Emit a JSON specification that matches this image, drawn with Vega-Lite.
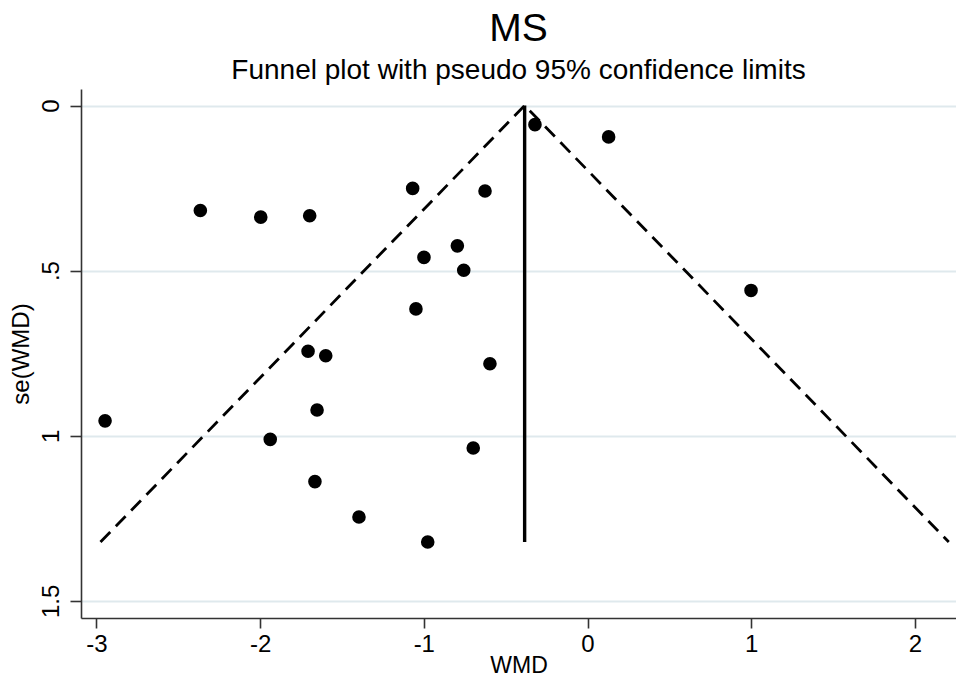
{
  "$schema": "https://vega.github.io/schema/vega-lite/v6.json",
  "autosize": "none",
  "width": 875,
  "height": 529,
  "padding": {"left": 81, "top": 89, "right": 0, "bottom": 65},
  "background": "white",
  "config": {
    "view": {"stroke": null},
    "font": "Liberation Sans",
    "title": {"font": "Liberation Sans", "color": "black", "fontWeight": "normal", "subtitleFont": "Liberation Sans", "subtitleColor": "black"},
    "axis": {"labelFont": "Liberation Sans", "titleFont": "Liberation Sans", "labelColor": "black", "titleColor": "black", "titleFontWeight": "normal"}
  },
  "title": {
    "text": "MS",
    "subtitle": "Funnel plot with pseudo 95% confidence limits",
    "fontSize": 39,
    "subtitleFontSize": 28,
    "subtitlePadding": 8,
    "anchor": "middle",
    "offset": 4
  },
  "datasets": {
    "studies": [
      {"wmd": -2.365, "se": 0.318},
      {"wmd": -1.996, "se": 0.338},
      {"wmd": -1.697, "se": 0.334},
      {"wmd": -1.068, "se": 0.251},
      {"wmd": -0.999, "se": 0.460},
      {"wmd": -1.048, "se": 0.616},
      {"wmd": -1.707, "se": 0.744},
      {"wmd": -1.599, "se": 0.758},
      {"wmd": -2.947, "se": 0.955},
      {"wmd": -1.938, "se": 1.011},
      {"wmd": -1.665, "se": 1.139},
      {"wmd": -1.396, "se": 1.246},
      {"wmd": -0.976, "se": 1.322},
      {"wmd": -0.698, "se": 1.037},
      {"wmd": -0.596, "se": 0.782},
      {"wmd": -1.652, "se": 0.922},
      {"wmd": -0.626, "se": 0.259},
      {"wmd": -0.795, "se": 0.425},
      {"wmd": -0.756, "se": 0.499},
      {"wmd": -0.321, "se": 0.058},
      {"wmd": 0.129, "se": 0.095},
      {"wmd": 0.999, "se": 0.560}
    ],
    "limits": [
      {"wmd": -2.975, "se": 1.322},
      {"wmd": -0.384, "se": 0},
      {"wmd": 2.207, "se": 1.322}
    ],
    "pooled": [
      {"wmd": -0.384, "se_top": 0, "se_bottom": 1.322}
    ]
  },
  "layer": [
    {
      "data": {"name": "studies"},
      "mark": {"type": "point", "filled": true, "color": "black", "opacity": 1, "size": 185},
      "encoding": {
        "x": {
          "field": "wmd", "type": "quantitative",
          "scale": {"domain": [-3.094, 2.251], "nice": false, "zero": false},
          "axis": {
            "title": "WMD", "titleFontSize": 23, "titlePadding": -2,
            "values": [-3, -2, -1, 0, 1, 2],
            "labelExpr": "'' + datum.value",
            "labelFontSize": 24, "labelPadding": 4,
            "grid": false,
            "domainColor": "#333333", "domainWidth": 1.6,
            "tickColor": "#333333", "tickWidth": 1.6, "tickSize": 10
          }
        },
        "y": {
          "field": "se", "type": "quantitative",
          "scale": {"domain": [-0.05, 1.552], "nice": false, "zero": false, "reverse": true},
          "axis": {
            "title": "se(WMD)", "titleFontSize": 24, "titlePadding": 6,
            "values": [0, 0.5, 1, 1.5],
            "format": "~g",
            "labelExpr": "datum.value == 0.5 ? '.5' : datum.label",
            "labelFontSize": 24, "labelAngle": 270, "labelAlign": "center", "labelBaseline": "alphabetic", "labelPadding": 12,
            "grid": true, "gridColor": "#dfe9ed", "gridWidth": 2,
            "domainColor": "#333333", "domainWidth": 1.6,
            "tickColor": "#333333", "tickWidth": 1.6, "tickSize": 11
          }
        }
      }
    },
    {
      "data": {"name": "limits"},
      "mark": {"type": "line", "color": "black", "strokeWidth": 2.8, "strokeDash": [14, 8]},
      "encoding": {
        "x": {"field": "wmd", "type": "quantitative"},
        "y": {"field": "se", "type": "quantitative"}
      }
    },
    {
      "data": {"name": "pooled"},
      "mark": {"type": "rule", "color": "black", "strokeWidth": 3.4},
      "encoding": {
        "x": {"field": "wmd", "type": "quantitative"},
        "y": {"field": "se_top", "type": "quantitative"},
        "y2": {"field": "se_bottom"}
      }
    }
  ]
}
